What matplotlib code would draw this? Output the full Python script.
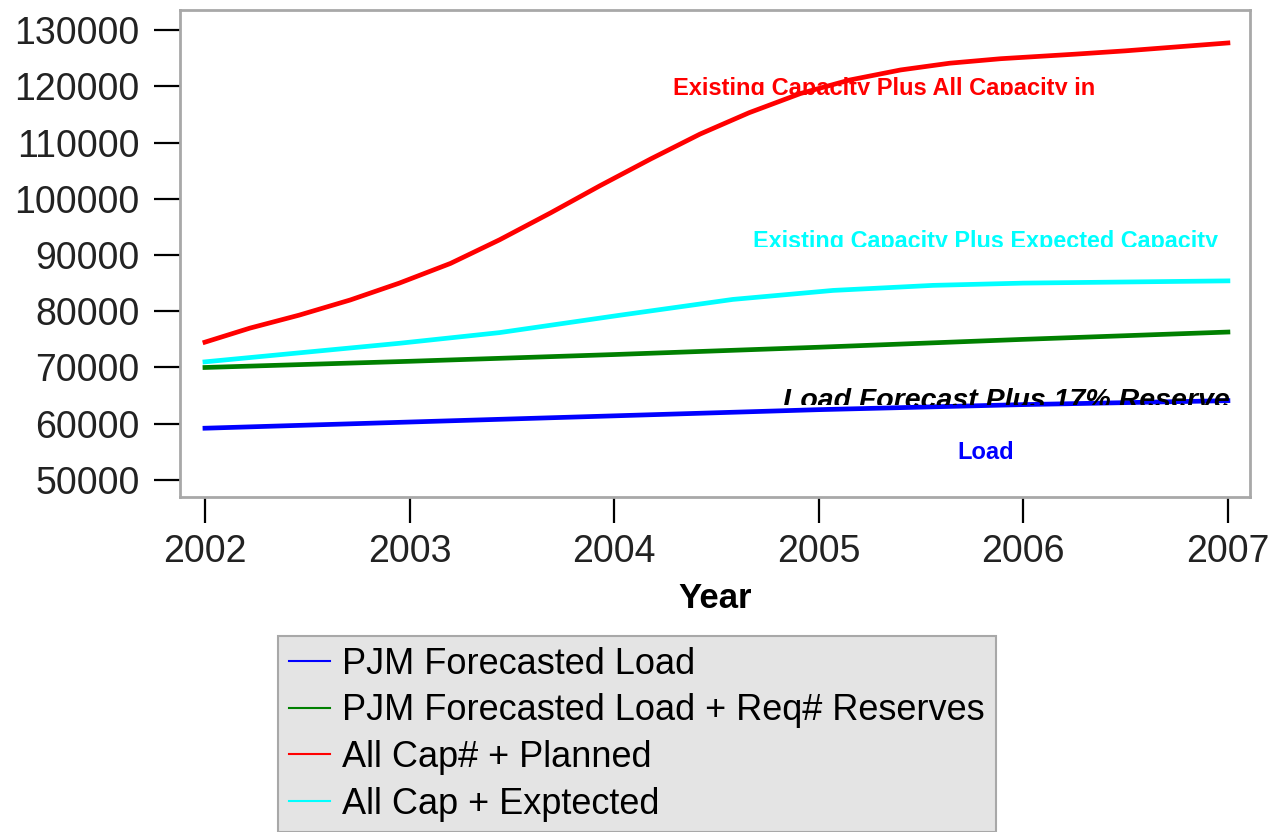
import matplotlib

matplotlib.use("Agg")
import matplotlib.pyplot as plt
from matplotlib.transforms import Bbox, TransformedBbox

# values (denser steps where the curve bends)
years_red = [2002, 2002.22, 2002.46, 2002.71, 2002.95, 2003.2, 2003.44, 2003.69,
             2003.93, 2004.18, 2004.42, 2004.66, 2004.91, 2005.15, 2005.4, 2005.64,
             2005.89, 2006.25, 2006.5, 2006.75, 2007]
all_cap_planned = [74500, 77000, 79300, 82000, 85000, 88500, 92700, 97500,
                   102300, 107100, 111500, 115300, 118700, 121100, 122900, 124100,
                   124900, 125700, 126300, 127000, 127700]

years_cyan = [2002, 2002.46, 2002.95, 2003.44, 2004.03, 2004.58, 2005.07, 2005.56,
              2006, 2006.5, 2007]
all_cap_expected = [71000, 72600, 74300, 76200, 79300, 82100, 83700, 84600,
                    85000, 85200, 85400]

years = [2002, 2003, 2004, 2005, 2006, 2007]
load_plus_reserves = [70000, 71100, 72300, 73600, 75000, 76300]
forecast_load = [59200, 60300, 61400, 62500, 63400, 64100]

year_ticks = [2002, 2003, 2004, 2005, 2006, 2007]
mw_ticks = [50000, 60000, 70000, 80000, 90000, 100000, 110000, 120000, 130000]

W, H = 1283, 832
plt.rcParams["font.family"] = ["Liberation Sans", "DejaVu Sans"]

fig = plt.figure(figsize=(W / 100, H / 100), dpi=100)
ax = fig.add_axes([180 / W, 1 - 497 / H, 1070 / W, 487 / H])

lw = 3.4
ax.plot(years, forecast_load, color="#0000ff", lw=lw, label="PJM Forecasted Load")
ax.plot(years, load_plus_reserves, color="#008000", lw=lw,
        label="PJM Forecasted Load + Req# Reserves")
ax.plot(years_red, all_cap_planned, color="#ff0000", lw=lw, label="All Cap# + Planned")
ax.plot(years_cyan, all_cap_expected, color="#00ffff", lw=lw, label="All Cap + Exptected")

ax.set_xlim(2001.878, 2007.108)
ax.set_ylim(46970, 133560)
ax.set_xticks(year_ticks)
ax.set_yticks(mw_ticks)
ax.tick_params(axis="both", direction="out", length=19, width=1.6, color="black",
               labelsize=27, labelcolor="#222222")
ax.tick_params(axis="y", pad=10)
ax.tick_params(axis="x", pad=8)
for sp in ax.spines.values():
    sp.set_color("#a8a8a8")
    sp.set_linewidth(2)

ax.set_xlabel("Year", fontsize=25, fontweight="bold", labelpad=8)

# in-plot annotations, cut off at the bottom as in the source
notes = [
    ("Existing Capacity Plus All Capacity in", "#ff0000", "normal", 17, 673, 77, 95),
    ("Existing Capacity Plus Expected Capacity", "#00ffff", "normal", 16.8, 753, 230, 247),
    ("Load Forecast Plus 17% Reserve", "black", "italic", 20.5, 783, 388, 405),
    ("Load", "#0000ff", "normal", 17, 957, 441, 470),
]
for txt, col, style, size, x, top, clip_y in notes:
    t = fig.text(x / W, 1 - top / H, txt, color=col, fontsize=size,
                 fontweight="bold", fontstyle=style, ha="left", va="top")
    box = Bbox([[0, 1 - clip_y / H], [1, 1]])
    t.set_clip_box(TransformedBbox(box, fig.transFigure))
    t.set_clip_on(True)

handles, labels = ax.get_legend_handles_labels()
leg = fig.legend(handles, labels, loc="upper left",
                 bbox_to_anchor=(278 / W, 1 - 636 / H), fontsize=26,
                 handlelength=1.15, handletextpad=0.33, labelspacing=0.32,
                 borderpad=0.3, borderaxespad=0, fancybox=False, framealpha=1)
for h in leg.legend_handles:
    h.set_linewidth(1.5)
fr = leg.get_frame()
fr.set_facecolor("#e4e4e4")
fr.set_edgecolor("#a8a8a8")
fr.set_linewidth(1.5)

fig.savefig("out.png", dpi=100)
